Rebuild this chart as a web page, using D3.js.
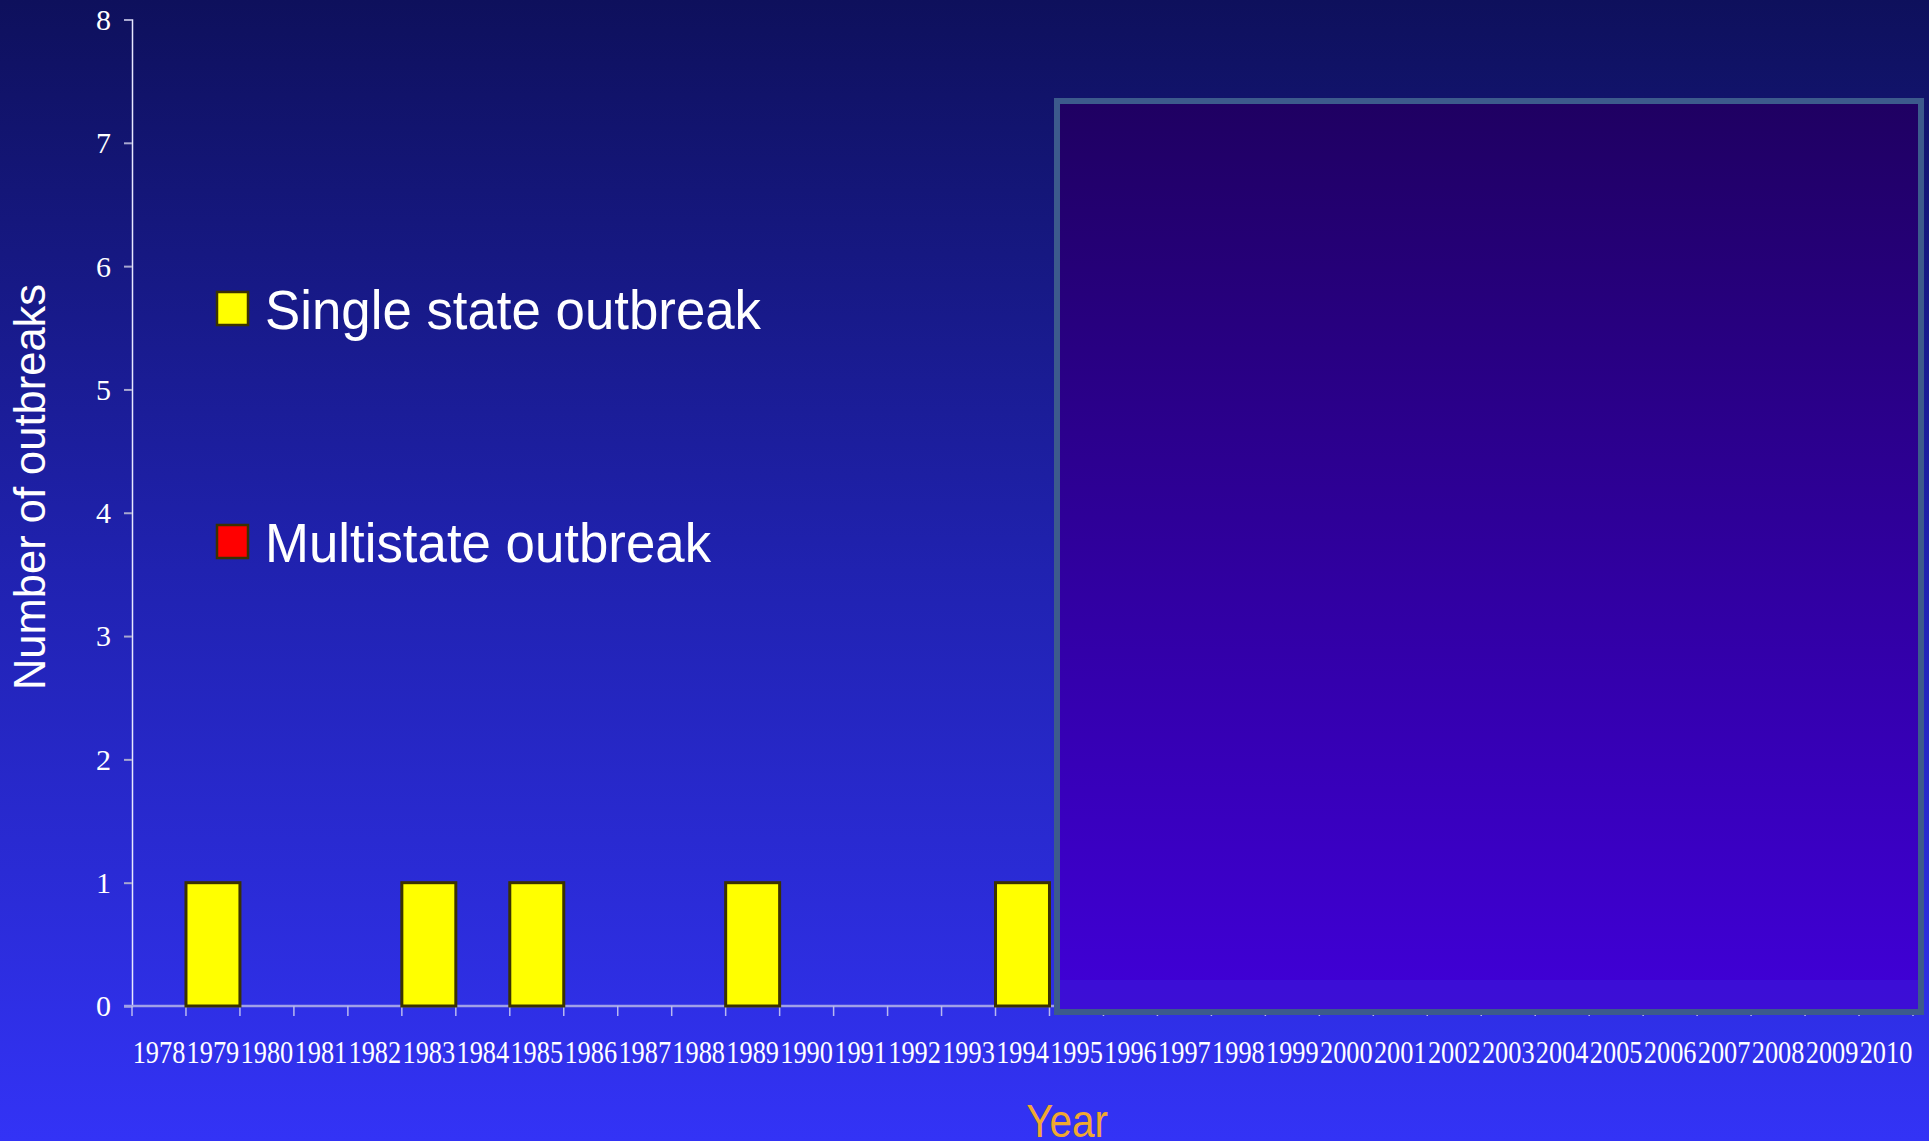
<!DOCTYPE html>
<html>
<head>
<meta charset="utf-8">
<script src="https://cdn.jsdelivr.net/npm/d3@7"></script>
<style>
  html, body { margin: 0; padding: 0; overflow: hidden; }
  svg { display: block; }
</style>
</head>
<body>
<svg id="chart"></svg>
<script>
// data (1995-2010 are hidden under the overlay box)
const years = ['1978','1979','1980','1981','1982','1983','1984','1985','1986','1987','1988',
  '1989','1990','1991','1992','1993','1994','1995','1996','1997','1998','1999','2000',
  '2001','2002','2003','2004','2005','2006','2007','2008','2009','2010']
const singleState = [0,1,0,0,0,1,0,1,0,0,0,1,0,0,0,0,1,
  null,null,null,null,null,null,null,null,null,null,null,null,null,null,null,null]
const multiState = [0,0,0,0,0,0,0,0,0,0,0,0,0,0,0,0,0,
  null,null,null,null,null,null,null,null,null,null,null,null,null,null,null,null]
const yTicks = [0,1,2,3,4,5,6,7,8]
const legendItems = [
  { label: 'Single state outbreak', color: '#ffff00' },
  { label: 'Multistate outbreak', color: '#ff0000' },
]

const width = 1929
const height = 1141

const svg = d3.select('#chart').attr('width', width).attr('height', height)
const defs = svg.append('defs')

// background gradient
const bg = defs.append('linearGradient').attr('id', 'bg')
  .attr('x1', 0).attr('y1', 0).attr('x2', 0).attr('y2', 1)
bg.append('stop').attr('offset', '0%').attr('stop-color', '#0e105c')
bg.append('stop').attr('offset', '50%').attr('stop-color', '#2022b0')
bg.append('stop').attr('offset', '100%').attr('stop-color', '#3333f6')
svg.append('rect').attr('width', width).attr('height', height).attr('fill', 'url(#bg)')

const boxGrad = defs.append('linearGradient').attr('id', 'boxg')
  .attr('x1', 0).attr('y1', 0).attr('x2', 0).attr('y2', 1)
boxGrad.append('stop').attr('offset', '0%').attr('stop-color', '#1f0062')
boxGrad.append('stop').attr('offset', '100%').attr('stop-color', '#4000d8')

const x = d3.scaleBand().domain(years).range([132, 1913]).padding(0)
const y = d3.scaleLinear().domain([0, 8]).range([1006, 19.5])

const viz = svg.append('g').attr('id', 'viz')

// y axis
const yAxis = viz.append('g').attr('transform', `translate(${x.range()[0]},0)`)
  .call(d3.axisLeft(y).tickValues(yTicks).tickSize(8).tickFormat(d3.format('d')))
yAxis.select('.domain').attr('stroke', '#e8e8ff').attr('stroke-width', 1.5)
yAxis.selectAll('.tick line').attr('stroke', '#a8a8d0').attr('stroke-width', 2)
yAxis.selectAll('.tick text')
  .attr('fill', '#ffffff')
  .attr('font-family', '"Liberation Serif", "Times New Roman", serif')
  .attr('font-size', 30)
  .attr('x', -21)
  .attr('dy', '0.33em')

// x axis: labels at band centres, ticks at band edges
const xAxis = viz.append('g').attr('transform', `translate(0,${y(0)})`)
xAxis.append('line')
  .attr('x1', x.range()[0] - 8).attr('x2', x.range()[1])
  .attr('stroke', '#a0a0e8').attr('stroke-width', 2.5)
xAxis.selectAll('line.tk')
  .data(years.concat(['end']))
  .join('line')
  .attr('class', 'tk')
  .attr('x1', (d) => (d === 'end' ? x.range()[1] : x(d)))
  .attr('x2', (d) => (d === 'end' ? x.range()[1] : x(d)))
  .attr('y1', 0).attr('y2', 10)
  .attr('stroke', '#b8b8f0').attr('stroke-width', 1.5)
xAxis.selectAll('text')
  .data(years)
  .join('text')
  .attr('transform', (d) => `translate(${x(d) + x.bandwidth() / 2},57) scale(0.85,1)`)
  .attr('text-anchor', 'middle')
  .attr('fill', '#ffffff')
  .attr('font-family', '"Liberation Serif", "Times New Roman", serif')
  .attr('font-size', 31)
  .text((d) => d)

// bars (stacked: single state then multistate)
const rows = years.map((yr, i) => ({ year: yr, single: singleState[i], multi: multiState[i] }))
viz.append('g').attr('id', 'single')
  .selectAll('rect')
  .data(rows.filter((d) => d.single))
  .join('rect')
  .attr('x', (d) => x(d.year))
  .attr('width', x.bandwidth())
  .attr('y', (d) => y(d.single))
  .attr('height', (d) => y(0) - y(d.single))
  .attr('fill', legendItems[0].color)
  .attr('stroke', '#3a3200').attr('stroke-width', 3)
viz.append('g').attr('id', 'multi')
  .selectAll('rect')
  .data(rows.filter((d) => d.multi))
  .join('rect')
  .attr('x', (d) => x(d.year))
  .attr('width', x.bandwidth())
  .attr('y', (d) => y(d.single + d.multi))
  .attr('height', (d) => y(d.single) - y(d.single + d.multi))
  .attr('fill', legendItems[1].color)
  .attr('stroke', '#3a3200').attr('stroke-width', 3)

// overlay box hiding later years
const box = svg.append('g').attr('id', 'cover')
box.append('rect')
  .attr('x', 1057).attr('y', 101).attr('width', 864).attr('height', 911)
  .attr('fill', 'url(#boxg)')
  .attr('stroke', '#3c5a8c').attr('stroke-width', 6)
box.append('rect')
  .attr('x', 1060).attr('y', 980).attr('width', 858).attr('height', 29)
  .attr('fill', '#3c12d6').attr('opacity', 0.8)

// legend
const legend = svg.append('g').attr('id', 'legend')
const legendY = [291, 524]
legendItems.forEach((item, i) => {
  const g = legend.append('g').attr('transform', `translate(0,${legendY[i]})`)
  g.append('rect')
    .attr('x', 217).attr('y', 1).attr('width', 31).attr('height', 33)
    .attr('fill', item.color)
    .attr('stroke', '#3a3200').attr('stroke-width', 2.5)
  g.append('text')
    .attr('transform', 'translate(265,38) scale(0.96,1)')
    .attr('fill', '#ffffff')
    .attr('font-family', '"Liberation Sans", Arial, sans-serif')
    .attr('font-size', 55)
    .text(item.label)
})

// axis titles
svg.append('text')
  .attr('transform', 'translate(45,487) rotate(-90)')
  .attr('text-anchor', 'middle')
  .attr('fill', '#ffffff')
  .attr('font-family', '"Liberation Sans", Arial, sans-serif')
  .attr('font-size', 43.5)
  .text('Number of outbreaks')

svg.append('text')
  .attr('transform', 'translate(1067,1137) scale(0.88,1)')
  .attr('text-anchor', 'middle')
  .attr('fill', '#f0a830')
  .attr('font-family', '"Liberation Sans", Arial, sans-serif')
  .attr('font-size', 46)
  .text('Year')
</script>
</body>
</html>
